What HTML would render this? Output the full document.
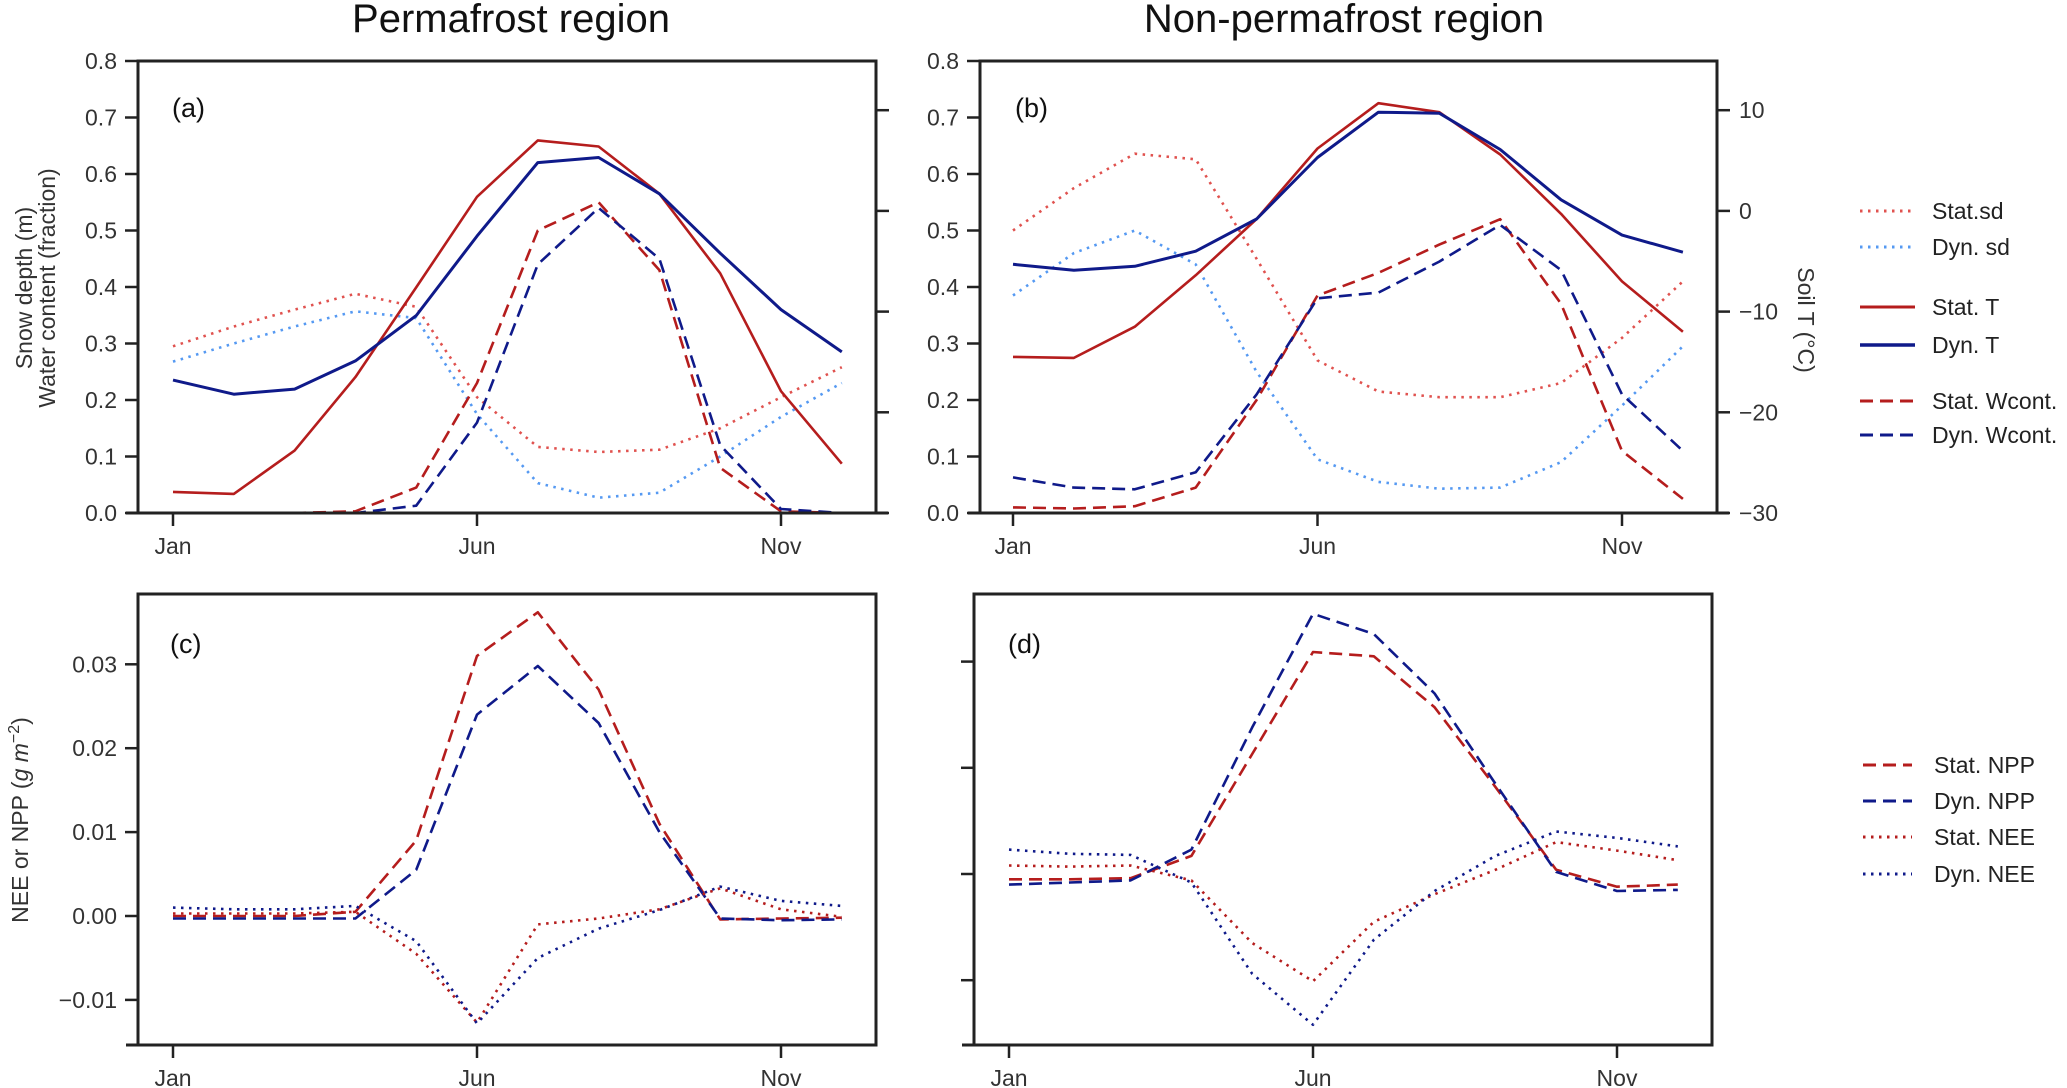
<!DOCTYPE html>
<html><head><meta charset="utf-8">
<style>
html,body{margin:0;padding:0;background:#fff;}
svg{display:block;font-family:"Liberation Sans",Arial,sans-serif;}
.tick{font-size:23px;fill:#333;}
.leg{font-size:23px;fill:#222;}
</style></head>
<body>
<svg id="fig" width="2067" height="1088" viewBox="0 0 2067 1088" xmlns="http://www.w3.org/2000/svg">
<text x="511" y="32" text-anchor="middle" font-size="40" fill="#111">Permafrost region</text>
<text x="1344" y="32" text-anchor="middle" font-size="40" fill="#111">Non-permafrost region</text>
<text transform="translate(32,288) rotate(-90)" text-anchor="middle" font-size="23" fill="#333">Snow depth (m)</text>
<text transform="translate(55,288) rotate(-90)" text-anchor="middle" font-size="23" fill="#333">Water content (fraction)</text>
<text transform="translate(1798,320) rotate(90)" text-anchor="middle" font-size="23" fill="#333">Soil T (°C)</text>
<text transform="translate(28,820) rotate(-90)" text-anchor="middle" font-size="23" fill="#333">NEE or NPP (<tspan font-style="italic">g m</tspan><tspan dy="-9" font-size="16">−2</tspan><tspan dy="9">)</tspan></text>
<g id="plots"></g>
</svg>
<script>
// shared categories
const months = ["Jan","Feb","Mar","Apr","May","Jun","Jul","Aug","Sep","Oct","Nov","Dec"];
const monthTicks = ["Jan","Jun","Nov"];
// panel (a) permafrost
const aStatSd = [0.295,0.33,0.36,0.388,0.365,0.205,0.117,0.108,0.112,0.15,0.205,0.258];
const aDynSd = [0.268,0.30,0.33,0.357,0.345,0.175,0.053,0.027,0.036,0.10,0.17,0.23];
const aStatT = [-27.9,-28.1,-23.8,-16.5,-7.6,1.4,7.0,6.4,1.7,-6.2,-17.9,-25.1];
const aDynT = [-16.8,-18.2,-17.7,-14.9,-10.4,-2.5,4.8,5.3,1.7,-4.2,-9.8,-14.0];
const aStatW = [0,0,0,0.003,0.045,0.23,0.50,0.55,0.43,0.08,0.003,0];
const aDynW = [0,0,0,0,0.013,0.16,0.44,0.54,0.45,0.12,0.007,0];
// panel (b) non-permafrost
const bStatSd = [0.50,0.575,0.636,0.626,0.45,0.27,0.215,0.205,0.205,0.23,0.31,0.41];
const bDynSd = [0.385,0.46,0.50,0.44,0.25,0.095,0.055,0.043,0.045,0.09,0.19,0.295];
const bStatT = [-14.5,-14.6,-11.5,-6.4,-0.8,6.2,10.7,9.8,5.6,-0.3,-7.0,-12.0];
const bDynT = [-5.3,-5.9,-5.5,-4.0,-0.8,5.3,9.8,9.7,6.1,1.1,-2.4,-4.1];
const bStatW = [0.01,0.008,0.012,0.045,0.20,0.385,0.425,0.475,0.52,0.37,0.11,0.025];
const bDynW = [0.063,0.045,0.042,0.072,0.21,0.38,0.39,0.445,0.51,0.43,0.21,0.11];
// panel (c)
const cStatNPP = [0,0,0,0.0005,0.009,0.031,0.0362,0.027,0.011,-0.0004,-0.0003,-0.0002];
const cDynNPP = [-0.0003,-0.0003,-0.0003,-0.0003,0.0055,0.024,0.0298,0.023,0.010,-0.0003,-0.0005,-0.0004];
const cStatNEE = [0.0003,0.0003,0.0003,0.0005,-0.0045,-0.0127,-0.001,-0.0003,0.0008,0.0033,0.0008,-0.0001];
const cDynNEE = [0.001,0.0008,0.0008,0.0012,-0.003,-0.0128,-0.005,-0.0015,0.0007,0.0035,0.0018,0.0012];
// panel (d)
const dStatNPP = [-0.0005,-0.0005,-0.0004,0.0017,0.0113,0.0209,0.0205,0.0157,0.0082,0.0004,-0.0012,-0.001];
const dDynNPP = [-0.001,-0.0008,-0.0006,0.0023,0.0138,0.0245,0.0226,0.017,0.0085,0.0002,-0.0016,-0.0015];
const dStatNEE = [0.0008,0.0007,0.0008,-0.0006,-0.0065,-0.0101,-0.0045,-0.0019,0.0004,0.003,0.0022,0.0013];
const dDynNEE = [0.0023,0.0019,0.0018,-0.0008,-0.0094,-0.0142,-0.0062,-0.0016,0.0017,0.004,0.0034,0.0026];
// tick labels
const leftTicksTop = ["0.0","0.1","0.2","0.3","0.4","0.5","0.6","0.7","0.8"];
const tempTicks = [-30,-20,-10,0,10];
const cTicks = [-0.01,0,0.01,0.02,0.03];
const cTickLabels = ["\u22120.01","0.00","0.01","0.02","0.03"];
const dTicks = [-0.01,0,0.01,0.02];

const NS="http://www.w3.org/2000/svg";
const root=document.getElementById('plots');
function mk(tag,attrs,parent){const e=document.createElementNS(NS,tag);for(const k in attrs)e.setAttribute(k,attrs[k]);(parent||root).appendChild(e);return e;}

const RED="#b51d1d", NAVY="#0f1a8a", LRED="#e0524f", LBLUE="#5599f2";
const DASH="13,7", DOT="2.5,5.5";

function panel(cfg){
  const g=mk('g',{});
  
  
  const X=i=>cfg.x0+i*cfg.dx;
  cfg.series.forEach(s=>{
    const pts=s.v.map((v,i)=>X(i).toFixed(1)+","+s.y(v).toFixed(1)).join(" ");
    const p=mk('polyline',{points:pts,fill:"none",stroke:s.c,"stroke-width":s.w||2.6,"stroke-dasharray":s.d||"none","stroke-linejoin":"round"},g);
    
    
  });
  const f=mk('rect',{x:cfg.L,y:cfg.T,width:cfg.R-cfg.L,height:cfg.B-cfg.T,fill:"none",stroke:"#222","stroke-width":3},g);
  
  
  mk('line',{x1:cfg.L-12,x2:cfg.R+(cfg.rticks?12:0),y1:cfg.B,y2:cfg.B,stroke:"#222","stroke-width":3},g);
  monthTicks.forEach(m=>{
    const x=X(months.indexOf(m));
    mk('line',{x1:x,x2:x,y1:cfg.B,y2:cfg.B+13,stroke:"#222","stroke-width":2.5},g);
    const t=mk('text',{x:x,y:cfg.B+41,"text-anchor":"middle",class:"tick"},g);
    t.textContent=m;
    
    
  });
  cfg.yticks.forEach((v,i)=>{
    const y=cfg.yl(v);
    mk('line',{x1:cfg.L-13,x2:cfg.L,y1:y,y2:y,stroke:"#222","stroke-width":2.5},g);
    if(cfg.ylabels){
      const t=mk('text',{x:cfg.L-21,y:y+8,"text-anchor":"end",class:"tick"},g);
      t.textContent=cfg.ylabels[i];
      
      
    }
  });
  if(cfg.rticks){
    cfg.rticks.forEach(v=>{
      const y=cfg.yr(v);
      mk('line',{x1:cfg.R,x2:cfg.R+13,y1:y,y2:y,stroke:"#222","stroke-width":2.5},g);
      if(cfg.rlabels){
        const t=mk('text',{x:cfg.R+22,y:y+8,"text-anchor":"start",class:"tick"},g);
        t.textContent=v<0?"\u2212"+Math.abs(v):String(v);
        
        
      }
    });
  }
  const lb=mk('text',{x:cfg.lab[0],y:cfg.lab[1],"font-size":27,fill:"#111"},g);
  lb.textContent=cfg.lab[2];
  
  
}

const ySdA=v=>513-v*565;
const yTA=t=>513-(t+30)*10.07;
const leftVals=[0,0.1,0.2,0.3,0.4,0.5,0.6,0.7,0.8];

panel({name:"panel-a",L:138,R:876,T:61,B:513,x0:173,dx:60.8,yl:ySdA,yticks:leftVals,ylabels:leftTicksTop,yr:yTA,rticks:tempTicks,rlabels:false,lab:[172,117,"(a)"],
 series:[{v:aStatSd,y:ySdA,c:LRED,d:DOT,n:"a-stat-sd"},{v:aDynSd,y:ySdA,c:LBLUE,d:DOT,n:"a-dyn-sd"},
 {v:aStatT,y:yTA,c:RED,n:"a-stat-t"},{v:aDynT,y:yTA,c:NAVY,w:3,n:"a-dyn-t"},
 {v:aStatW,y:ySdA,c:RED,d:DASH,n:"a-stat-wcont"},{v:aDynW,y:ySdA,c:NAVY,d:DASH,n:"a-dyn-wcont"}]});

panel({name:"panel-b",L:980,R:1717,T:61,B:513,x0:1013,dx:60.9,yl:ySdA,yticks:leftVals,ylabels:leftTicksTop,yr:yTA,rticks:tempTicks,rlabels:true,lab:[1015,117,"(b)"],
 series:[{v:bStatSd,y:ySdA,c:LRED,d:DOT,n:"b-stat-sd"},{v:bDynSd,y:ySdA,c:LBLUE,d:DOT,n:"b-dyn-sd"},
 {v:bStatT,y:yTA,c:RED,n:"b-stat-t"},{v:bDynT,y:yTA,c:NAVY,w:3,n:"b-dyn-t"},
 {v:bStatW,y:ySdA,c:RED,d:DASH,n:"b-stat-wcont"},{v:bDynW,y:ySdA,c:NAVY,d:DASH,n:"b-dyn-wcont"}]});

const yC=v=>916-v*8390;
panel({name:"panel-c",L:138,R:876,T:594,B:1045,x0:173,dx:60.8,yl:yC,yticks:cTicks,ylabels:cTickLabels,lab:[170,653,"(c)"],
 series:[{v:cStatNPP,y:yC,c:RED,d:DASH,n:"c-stat-npp"},{v:cDynNPP,y:yC,c:NAVY,d:DASH,n:"c-dyn-npp"},
 {v:cStatNEE,y:yC,c:RED,d:DOT,n:"c-stat-nee"},{v:cDynNEE,y:yC,c:NAVY,d:DOT,n:"c-dyn-nee"}]});

const yD=v=>874-v*10620;
panel({name:"panel-d",L:974,R:1712,T:594,B:1045,x0:1009,dx:60.8,yl:yD,yticks:dTicks,lab:[1008,653,"(d)"],
 series:[{v:dStatNPP,y:yD,c:RED,d:DASH,n:"d-stat-npp"},{v:dDynNPP,y:yD,c:NAVY,d:DASH,n:"d-dyn-npp"},
 {v:dStatNEE,y:yD,c:RED,d:DOT,n:"d-stat-nee"},{v:dDynNEE,y:yD,c:NAVY,d:DOT,n:"d-dyn-nee"}]});

function legend(items,x1,x2,tx){
  items.forEach(it=>{
    const g=mk('g',{});
    
    
    mk('line',{x1:x1,x2:x2,y1:it[1],y2:it[1],stroke:it[2],"stroke-width":it[4]||3,"stroke-dasharray":it[3]||"none"},g);
    const t=mk('text',{x:tx,y:it[1]+8,class:"leg"},g);
    t.textContent=it[0];
  });
}
legend([["Stat.sd",211,LRED,DOT],["Dyn. sd",247,LBLUE,DOT],["Stat. T",307,RED],["Dyn. T",345,NAVY,null,3.5],["Stat. Wcont.",401,RED,DASH],["Dyn. Wcont.",435,NAVY,DASH]],1860,1915,1932);
legend([["Stat. NPP",765,RED,DASH],["Dyn. NPP",801,NAVY,DASH],["Stat. NEE",837,RED,DOT],["Dyn. NEE",874,NAVY,DOT]],1863,1912,1934);
</script>
</body></html>
